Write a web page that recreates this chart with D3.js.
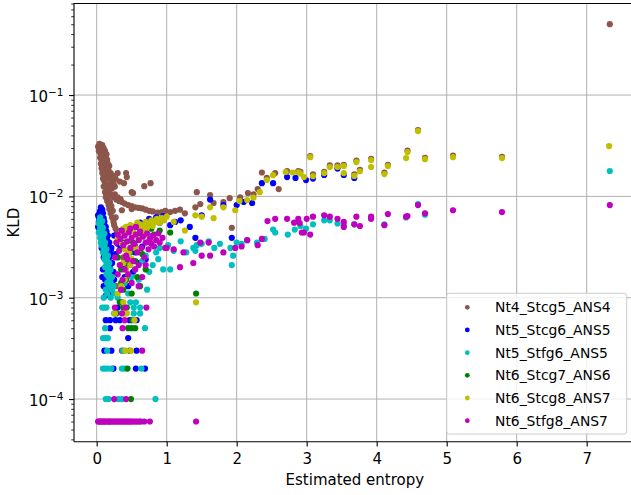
<!DOCTYPE html>
<html>
<head>
<meta charset="utf-8">
<script src="https://cdn.jsdelivr.net/npm/d3@7"></script>
<style>
  body { margin: 0; background: #fff; }
  svg { display: block; font-family: "DejaVu Sans", sans-serif; }
</style>
</head>
<body>
<svg id="chart" width="631" height="495"></svg>
<script>
// series names, in legend / draw order
const seriesNames = ["Nt4_Stcg5_ANS4", "Nt5_Stcg6_ANS5", "Nt5_Stfg6_ANS5", "Nt6_Stcg7_ANS6", "Nt6_Stcg8_ANS7", "Nt6_Stfg8_ANS7"];
const seriesColors = ["#8c564b", "#0000ff", "#00bfbf", "#008000", "#bfbf00", "#bf00bf"];

// [estimated entropy, KLD]
const nt4Stcg5 = [
  [0.02,0.031],[0.03,0.030],[0.04,0.031],[0.05,0.029],[0.06,0.030],[0.03,0.028],[0.05,0.027],[0.07,0.028],
  [0.08,0.026],[0.06,0.025],[0.09,0.025],[0.1,0.024],[0.07,0.023],[0.11,0.022],[0.12,0.021],[0.09,0.021],
  [0.13,0.020],[0.15,0.019],[0.1,0.019],[0.17,0.018],[0.2,0.017],[0.12,0.017],[0.23,0.016],[0.27,0.015],
  [0.04,0.033],[0.08,0.032],[0.1,0.030],[0.12,0.028],[0.14,0.026],[0.11,0.026],[0.13,0.024],[0.15,0.023],
  [0.16,0.021],[0.18,0.020],[0.05,0.024],[0.06,0.021],[0.07,0.019],[0.08,0.017],[0.09,0.015],[0.11,0.014],
  [0.14,0.017],[0.16,0.016],[0.19,0.015],[0.21,0.014],[0.24,0.0135],[0.18,0.013],[0.22,0.012],[0.26,0.0125],
  [0.3,0.017],[0.33,0.014],[0.39,0.0135],[0.42,0.017],[0.43,0.0155],[0.5,0.011],[0.52,0.0108],[0.68,0.0126],[0.77,0.0135],
  [0.1,0.016],[0.12,0.0145],[0.14,0.013],[0.16,0.012],[0.18,0.0112],[0.2,0.0105],[0.24,0.0098],[0.28,0.0093],
  [0.32,0.009],[0.36,0.0088],[0.4,0.0085],[0.45,0.0082],[0.5,0.008],[0.55,0.0078],[0.6,0.0077],[0.65,0.0076],
  [0.7,0.0074],[0.75,0.0072],[0.8,0.0071],[0.87,0.0069],[0.93,0.007],[0.26,0.0105],[0.3,0.0098],[0.34,0.0094],
  [0.1,0.0125],[0.12,0.011],[0.13,0.0098],[0.15,0.009],[0.17,0.0082],[0.18,0.0075],[0.2,0.0068],[0.22,0.0062],
  [0.24,0.0056],[0.25,0.0052],[0.27,0.0048],[0.29,0.0044],[0.3,0.004],[0.32,0.0036],[0.36,0.0073],[0.5,0.0075],
  [0.14,0.0105],[0.16,0.0095],[0.19,0.0088],[0.21,0.008],[0.23,0.0072],[0.27,0.0062],
  [0.28,0.0013],[0.32,0.0043],[0.36,0.0003],[0.38,0.0025],
  [0.98,0.0072],[1.05,0.0070],[1.12,0.0072],[1.19,0.0074],[1.26,0.0068],[1.41,0.0078],[1.43,0.011],[1.48,0.0084],
  [1.62,0.0103],[1.67,0.0086],[1.81,0.0088],[1.9,0.0096],[1.93,0.0049],[2.05,0.0098],[2.16,0.0108],[2.24,0.0105],
  [2.3,0.0118],[2.36,0.0172],[2.43,0.0152],[2.55,0.017],[2.6,0.0118],[2.72,0.0178],[2.88,0.0178],[2.91,0.0175],
  [3.05,0.025],[3.09,0.0165],[3.25,0.0175],[3.33,0.0202],[3.44,0.0202],[3.53,0.0205],[3.68,0.0165],[3.71,0.0225],
  [3.76,0.0183],[3.92,0.0235],[4.11,0.0172],[4.16,0.0205],[4.44,0.0283],[4.59,0.045],[4.69,0.024],[5.09,0.0252],
  [5.79,0.0246],[7.33,0.5]
];
const nt5Stcg6 = [
  [0.06,0.0078],[0.05,0.0072],[0.04,0.0068],[0.07,0.0066],[0.03,0.0062],[0.05,0.0058],[0.04,0.0054],[0.08,0.0052],
  [0.06,0.0049],[0.1,0.0047],[0.08,0.0044],[0.12,0.0042],[0.14,0.0045],[0.11,0.0039],[0.15,0.0037],[0.13,0.0034],
  [0.17,0.0032],[0.2,0.0029],[0.15,0.0028],[0.18,0.0025],[0.14,0.0023],[0.22,0.0022],[0.19,0.002],[0.24,0.0018],
  [0.17,0.0017],[0.12,0.0015],[0.21,0.0014],[0.1,0.0013],[0.16,0.0012],[0.13,0.00105],[0.2,0.0011],[0.09,0.0019],
  [0.08,0.0074],[0.09,0.0068],[0.1,0.0061],[0.02,0.0065],[0.03,0.0056],[0.11,0.0056],[0.13,0.005],[0.02,0.005],
  [0.16,0.0041],[0.18,0.0035],[0.07,0.0031],[0.21,0.0031],[0.1,0.0025],[0.23,0.0026],[0.08,0.0016],[0.25,0.0015],
  [0.3,0.0034],[0.27,0.0027],[0.34,0.0031],[0.38,0.0021],[0.4,0.0016],[0.45,0.0013],[0.52,0.0018],[0.6,0.0022],
  [0.55,0.0028],[0.65,0.0032],[0.7,0.0024],[0.25,0.0041],[0.35,0.0046],
  [0.13,0.0006],[0.19,0.0006],[0.27,0.0006],[0.33,0.0006],[0.47,0.0006],[0.57,0.0006],[0.19,0.0005],[0.45,0.0004],
  [0.11,0.0003],[0.21,0.0003],[0.57,0.0003],[0.24,0.0002],[0.56,0.0002],[0.69,0.0002],[0.3,0.0008],[0.36,0.0009],
  [0.62,0.0055],[0.75,0.006],[0.85,0.0062],[0.95,0.0064],
  [0.9,0.0055],[1.05,0.0052],[1.12,0.0056],[1.2,0.0058],[1.33,0.005],[1.41,0.0039],[1.5,0.0065],[1.62,0.0093],
  [1.81,0.0082],[1.93,0.0039],[2.0,0.0082],[2.1,0.0088],[2.22,0.0086],[2.36,0.0135],[2.52,0.0135],[2.72,0.0155],
  [2.84,0.0152],[2.99,0.0145],[3.09,0.015],[3.25,0.0163],[3.44,0.0188],[3.53,0.0163],[3.68,0.0152]
];
const nt5Stfg6 = [
  [0.05,0.0062],[0.04,0.0058],[0.06,0.0055],[0.05,0.0052],[0.07,0.005],[0.05,0.0048],[0.06,0.0046],[0.08,0.0044],
  [0.06,0.0042],[0.07,0.004],[0.09,0.0039],[0.08,0.0037],[0.1,0.0036],[0.09,0.0034],[0.11,0.0033],[0.1,0.0031],
  [0.12,0.003],[0.11,0.0029],[0.13,0.0027],[0.12,0.0026],[0.14,0.0025],[0.13,0.0024],[0.15,0.0023],[0.14,0.0022],
  [0.16,0.0021],[0.15,0.002],[0.17,0.0019],[0.16,0.0018],[0.18,0.0017],[0.17,0.0016],[0.19,0.0015],[0.2,0.0014],
  [0.18,0.0013],[0.22,0.0012],[0.15,0.0011],[0.25,0.0011],[0.1,0.001],[0.2,0.001],[0.3,0.001],[0.06,0.0035],[0.04,0.0045],
  [0.03,0.0054],[0.08,0.0057],[0.09,0.0049],[0.03,0.0044],[0.11,0.0043],[0.05,0.0039],[0.12,0.0035],[0.07,0.0033],
  [0.14,0.003],[0.09,0.0028],[0.16,0.0026],[0.11,0.0024],[0.18,0.0022],[0.12,0.002],[0.2,0.0019],[0.14,0.0017],
  [0.22,0.0016],[0.15,0.0014],[0.24,0.0013],[0.13,0.0012],
  [0.35,0.0012],[0.4,0.0014],[0.45,0.0011],[0.5,0.0016],[0.55,0.0019],[0.6,0.0015],[0.65,0.0023],[0.7,0.0026],
  [0.72,0.0012],[0.75,0.0018],[0.8,0.0021],[0.85,0.0028],[0.88,0.0024],[0.9,0.0031],[0.95,0.0019],[1.02,0.0033],
  [1.05,0.0019],[1.1,0.0029],[1.2,0.0036],[1.28,0.0028],[1.38,0.0031],[1.43,0.0033],[1.41,0.0029],[1.5,0.0034],
  [1.6,0.0036],[1.68,0.0031],[1.76,0.0034],[1.91,0.0031],[1.95,0.0026],[1.93,0.0021],[2.0,0.0035],[2.07,0.0034],
  [2.15,0.0037],[2.29,0.0035],[2.4,0.0038],[2.52,0.0047],[2.55,0.0044],[2.73,0.0042],[2.83,0.0047],[2.91,0.0051],
  [2.99,0.0048],[3.09,0.0053],[3.25,0.0058],[3.33,0.0058],[3.44,0.0054],[3.53,0.0052],[3.68,0.0053],[3.92,0.0061],
  [4.11,0.0053],[4.42,0.0062],[4.59,0.0084],[4.69,0.0066],[7.33,0.0178],
  [0.08,0.0008],[0.11,0.0008],[0.14,0.0008],[0.53,0.0008],[0.62,0.0008],[0.53,0.0007],[0.62,0.0007],[0.12,0.0005],
  [0.69,0.0005],[0.09,0.0004],[0.13,0.0004],[0.16,0.0004],[0.15,0.0003],[0.38,0.0003],[0.09,0.0002],[0.12,0.0002],
  [0.16,0.0002],[0.21,0.0002],[0.36,0.0002],[0.4,0.0002],[0.64,0.0002],[0.13,0.0001],[0.17,0.0001],[0.36,0.0001],
  [0.31,0.0001],[0.84,0.0001],[0.48,0.0009],[0.56,0.0009],[0.25,0.0007],[0.64,0.00006]
];
const nt6Stcg7 = [
  [0.3,0.0025],[0.35,0.0019],[0.38,0.0012],[0.42,0.0015],[0.45,0.0021],[0.48,0.0028],[0.5,0.0011],[0.52,0.0035],
  [0.55,0.0023],[0.58,0.0016],[0.6,0.0041],[0.62,0.0013],[0.65,0.0027],[0.68,0.0044],[0.7,0.0019],[0.75,0.0036],
  [0.78,0.0048],[0.82,0.0042],[0.9,0.0046],[1.05,0.0044],[0.4,0.0035],[0.33,0.0009],[0.43,0.0008],[0.38,0.0008],
  [0.28,0.0007],[0.51,0.0006],[0.45,0.0005],[0.5,0.0005],[0.55,0.0005],[0.44,0.0002],[0.49,0.0001],[0.47,0.0003],
  [1.42,0.0011],[0.35,0.0014],[0.55,0.0032]
];
const nt6Stcg8 = [
  [0.3,0.0038],[0.33,0.0042],[0.35,0.0045],[0.38,0.0048],[0.4,0.0044],[0.42,0.005],[0.45,0.0047],[0.48,0.0052],
  [0.5,0.0048],[0.52,0.0045],[0.55,0.0051],[0.58,0.0055],[0.6,0.0049],[0.62,0.0053],[0.65,0.0046],[0.68,0.0052],
  [0.7,0.0056],[0.72,0.0049],[0.75,0.0054],[0.78,0.0058],[0.8,0.0051],[0.83,0.0056],[0.86,0.006],[0.9,0.0055],
  [0.93,0.0061],[0.96,0.0058],[1.0,0.0063],[0.36,0.0034],[0.4,0.003],[0.43,0.0026],[0.38,0.0022],[0.42,0.0019],
  [0.45,0.0017],[0.48,0.0021],[0.4,0.0015],[0.5,0.0024],[0.46,0.0028],[0.55,0.0031],[0.35,0.0013],[0.3,0.0011],
  [0.26,0.0007],[0.4,0.0007],[0.43,0.0007],[0.38,0.0009],[0.54,0.0006],[0.41,0.0003],[0.49,0.0003],[1.42,0.0009],
  [0.6,0.0038],[0.7,0.0042],
  [1.1,0.0056],[1.26,0.0046],[1.41,0.0065],[1.5,0.0063],[1.62,0.0078],[1.67,0.0061],[1.81,0.0078],[1.98,0.0073],
  [2.04,0.009],[2.15,0.0092],[2.24,0.0097],[2.33,0.011],[2.43,0.0145],[2.52,0.0162],[2.7,0.0174],[2.8,0.0172],
  [2.88,0.0173],[2.91,0.0168],[2.96,0.0155],[3.05,0.0244],[3.09,0.0158],[3.25,0.017],[3.33,0.0195],[3.44,0.0195],
  [3.53,0.0199],[3.53,0.017],[3.68,0.0159],[3.71,0.0218],[3.76,0.0177],[3.92,0.0228],[3.92,0.0195],[4.11,0.0166],
  [4.16,0.0199],[4.42,0.0239],[4.44,0.0274],[4.59,0.0441],[4.69,0.0233],[5.09,0.0244],[5.79,0.0239],[7.32,0.0314]
];
const nt6Stfg8 = [
  [0.28,0.0035],[0.3,0.0042],[0.32,0.0029],[0.34,0.0038],[0.36,0.0046],[0.38,0.0033],[0.4,0.0041],[0.42,0.0026],
  [0.44,0.0036],[0.46,0.0044],[0.48,0.0031],[0.5,0.0039],[0.52,0.0023],[0.54,0.0034],[0.56,0.0042],[0.58,0.0028],
  [0.6,0.0037],[0.62,0.0045],[0.64,0.0031],[0.66,0.004],[0.68,0.0025],[0.7,0.0035],[0.72,0.0043],[0.74,0.003],
  [0.76,0.0038],[0.78,0.0034],[0.8,0.0041],[0.82,0.0032],[0.85,0.0037],[0.88,0.0043],[0.9,0.0035],[0.94,0.0039],
  [0.98,0.0031],[0.33,0.0021],[0.4,0.0019],[0.45,0.0017],[0.37,0.0015],[0.5,0.0014],[0.55,0.0019],[0.6,0.0021],
  [0.3,0.0017],[0.44,0.0024],[0.65,0.0016],[0.7,0.0021],[0.26,0.0025],[0.48,0.0048],[0.56,0.005],[0.35,0.0012],[0.6,0.0013],
  [0.26,0.0008],[0.41,0.0008],[0.71,0.0008],[0.36,0.0007],[0.37,0.0005],[0.4,0.0006],[0.65,0.0003],[0.25,0.0001],[0.42,0.0001],
  [0.02,0.00006],[0.03,0.00006],[0.05,0.00006],[0.06,0.00006],[0.08,0.00006],[0.1,0.00006],[0.11,0.00006],[0.13,0.00006],
  [0.15,0.00006],[0.17,0.00006],[0.18,0.00006],[0.2,0.00006],[0.22,0.00006],[0.24,0.00006],[0.26,0.00006],[0.28,0.00006],
  [0.3,0.00006],[0.32,0.00006],[0.34,0.00006],[0.36,0.00006],[0.38,0.00006],[0.4,0.00006],[0.42,0.00006],[0.44,0.00006],
  [0.46,0.00006],[0.48,0.00006],[0.5,0.00006],[0.52,0.00006],[0.55,0.00006],[0.57,0.00006],[0.6,0.00006],[0.62,0.00006],
  [0.68,0.00006],[0.76,0.00006],[1.42,0.00006],
  [1.0,0.0031],[1.1,0.003],[1.19,0.002],[1.24,0.0028],[1.38,0.0022],[1.48,0.0035],[1.5,0.0026],[1.6,0.0035],
  [1.62,0.0026],[1.81,0.0028],[1.98,0.0031],[2.07,0.0032],[2.15,0.0037],[2.3,0.0033],[2.36,0.0038],[2.44,0.0057],
  [2.55,0.006],[2.72,0.006],[2.82,0.0055],[2.88,0.006],[2.9,0.00545],[2.93,0.0044],[2.96,0.0044],[3.0,0.006],
  [3.05,0.0042],[3.09,0.0063],[3.25,0.0065],[3.33,0.0063],[3.44,0.006],[3.53,0.0056],[3.53,0.005],[3.68,0.0053],
  [3.71,0.0063],[3.76,0.0051],[3.92,0.0063],[3.92,0.006],[4.11,0.0052],[4.16,0.0067],[4.42,0.0063],[4.44,0.0064],
  [4.59,0.0082],[4.69,0.0068],[5.09,0.0073],[5.79,0.007],[7.33,0.0082]
];
const allSeries = [nt4Stcg5, nt5Stcg6, nt5Stfg6, nt6Stcg7, nt6Stcg8, nt6Stfg8];

const xTicks = [0, 1, 2, 3, 4, 5, 6, 7];
const yTicks = [1e-4, 1e-3, 1e-2, 1e-1];
const yTickExp = ["\u22124", "\u22123", "\u22122", "\u22121"];

const svg = d3.select("#chart");
const plot = { left: 74, top: 3.5, right: 635.7, bottom: 441.7 };
const labelSize = 15;

const x = d3.scaleLinear().domain([-0.324, 7.70]).range([plot.left, plot.right]);
const y = d3.scaleLog().domain([Math.pow(10, -4.421), Math.pow(10, -0.0965)]).range([plot.bottom, plot.top]);

// grid
const grid = svg.append("g").attr("stroke", "#b0b0b0").attr("stroke-width", 1);
grid.selectAll(".gx").data(xTicks).join("line")
  .attr("x1", d => x(d)).attr("x2", d => x(d))
  .attr("y1", plot.top).attr("y2", plot.bottom);
grid.selectAll(".gy").data(yTicks).join("line")
  .attr("x1", plot.left).attr("x2", plot.right)
  .attr("y1", d => y(d)).attr("y2", d => y(d));

// points, drawn in legend order
const marks = svg.append("g");
allSeries.forEach((pts, i) => {
  marks.append("g").attr("fill", seriesColors[i])
    .selectAll("circle").data(pts).join("circle")
    .attr("cx", d => x(d[0]))
    .attr("cy", d => y(d[1]))
    .attr("r", 3.1);
});

// axes
const xAxis = svg.append("g")
  .attr("transform", `translate(0,${plot.bottom})`)
  .call(d3.axisBottom(x).tickValues(xTicks).tickSize(4.9).tickPadding(6.5).tickFormat(d3.format("d")));
xAxis.select(".domain").remove();
xAxis.selectAll("text").attr("font-size", labelSize).attr("font-family", "DejaVu Sans").attr("fill", "#000");
xAxis.selectAll("line").attr("stroke", "#000").attr("stroke-width", 1.1);

const minorY = [];
for (let e = -5; e <= -1; e++) {
  for (let m = 2; m <= 9; m++) {
    const v = m * Math.pow(10, e);
    if (v >= y.domain()[0] && v <= y.domain()[1]) minorY.push(v);
  }
}
const yMinor = svg.append("g")
  .attr("transform", `translate(${plot.left},0)`)
  .call(d3.axisLeft(y).tickValues(minorY).tickSize(2.8).tickFormat(""));
yMinor.select(".domain").remove();
yMinor.selectAll("line").attr("stroke", "#000").attr("stroke-width", 0.8);

const yAxis = svg.append("g")
  .attr("transform", `translate(${plot.left},0)`)
  .call(d3.axisLeft(y).tickValues(yTicks).tickSize(4.9).tickFormat(""));
yAxis.select(".domain").remove();
yAxis.selectAll("line").attr("stroke", "#000").attr("stroke-width", 1.1);

const yLab = svg.append("g").attr("font-size", labelSize).attr("fill", "#000");
yTicks.forEach((t, i) => {
  const tx = yLab.append("text").attr("x", 63.5).attr("y", y(t) + 6.8).attr("text-anchor", "end");
  tx.append("tspan").text("10");
  tx.append("tspan").attr("font-size", 10.5).attr("dy", -6).text(yTickExp[i]);
});

// spines (right edge sits outside the picture)
svg.append("path")
  .attr("d", `M${plot.left},${plot.bottom}V${plot.top}H${plot.right}`)
  .attr("fill", "none").attr("stroke", "#000").attr("stroke-width", 1.1);
svg.append("line")
  .attr("x1", plot.left).attr("x2", plot.right)
  .attr("y1", plot.bottom).attr("y2", plot.bottom)
  .attr("stroke", "#000").attr("stroke-width", 1.1);

// axis titles
svg.append("text").attr("x", (plot.left + plot.right) / 2).attr("y", 484.5)
  .attr("text-anchor", "middle").attr("font-size", labelSize).text("Estimated entropy");
svg.append("text").attr("transform", `translate(19,${(plot.top + plot.bottom) / 2}) rotate(-90)`)
  .attr("text-anchor", "middle").attr("font-size", labelSize).text("KLD");

// legend
const leg = svg.append("g");
leg.append("rect").attr("x", 446.7).attr("y", 293.3).attr("width", 180).attr("height", 140.7)
  .attr("rx", 2.5).attr("fill", "#fff").attr("fill-opacity", 0.8)
  .attr("stroke", "#cccccc").attr("stroke-width", 1);
const rows = leg.selectAll(".row").data(seriesNames).join("g")
  .attr("transform", (d, i) => `translate(0,${307.3 + i * 22.67})`);
rows.append("circle").attr("cx", 467.3).attr("cy", 0).attr("r", 2.4)
  .attr("fill", (d, i) => seriesColors[i]);
rows.append("text").attr("x", 495).attr("y", 5).attr("font-size", 13.9).text(d => d);
</script>
</body>
</html>
